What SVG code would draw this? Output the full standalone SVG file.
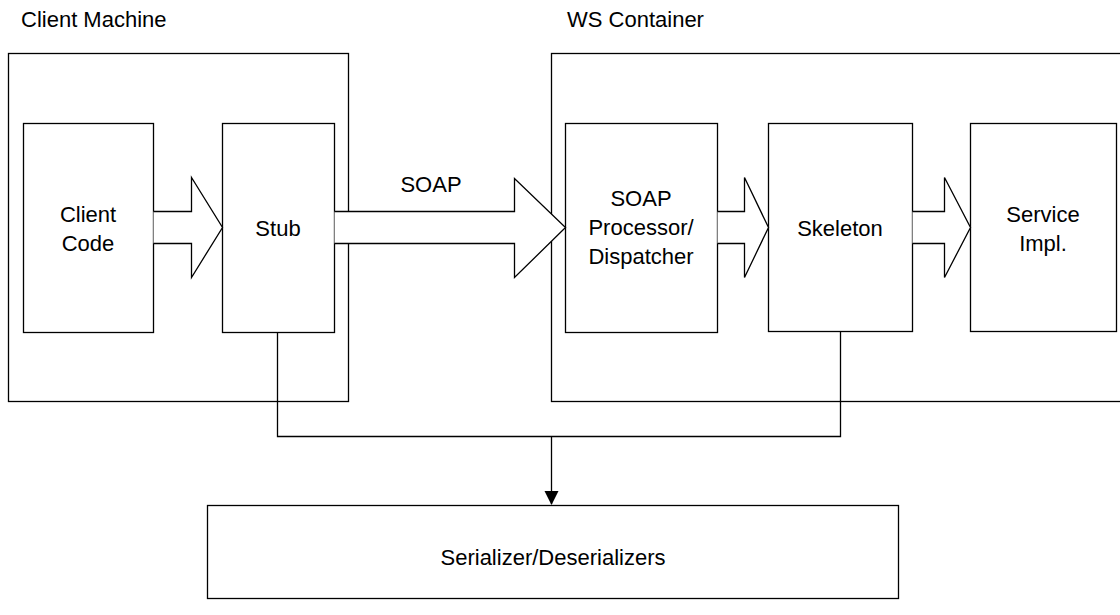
<svg xmlns="http://www.w3.org/2000/svg" width="1120" height="615" viewBox="0 0 1120 615">
<defs>
<style>
.box{fill:#fff;stroke:#000;stroke-width:1.3}
.frame{fill:none;stroke:#000;stroke-width:1.3}
.arr{fill:#fff;stroke:#000;stroke-width:1.3;stroke-linejoin:miter}
.line{fill:none;stroke:#000;stroke-width:1.3}
text{font-family:"Liberation Sans",Arial,sans-serif;font-size:22px;fill:#000}
.c{text-anchor:middle}
</style>
<marker id="ah" markerWidth="14" markerHeight="22" refX="13" refY="7" orient="auto" markerUnits="userSpaceOnUse" viewBox="0 0 14 14">
<path d="M0,0 L14,7 L0,14 Z" fill="#000"/>
</marker>
</defs>
<rect width="1120" height="615" fill="#fff"/>
<g id="client-machine">
<rect class="frame" x="8.5" y="53.5" width="340" height="348"/>
<text x="21" y="27">Client Machine</text>
</g>
<g id="ws-container">
<rect class="frame" x="551.5" y="53.5" width="600" height="348"/>
<text x="567" y="27">WS Container</text>
</g>
<g id="client-code">
<rect class="box" x="23.5" y="123.5" width="130" height="209"/>
<text class="c" x="88" y="222">Client</text>
<text class="c" x="88" y="251">Code</text>
</g>
<g id="stub">
<rect class="box" x="222.5" y="123.5" width="112" height="209"/>
<text class="c" x="278" y="236">Stub</text>
</g>
<g id="soap-processor">
<rect class="box" x="565.5" y="123.5" width="152" height="209"/>
<text class="c" x="641" y="206">SOAP</text>
<text class="c" x="641" y="235">Processor/</text>
<text class="c" x="641" y="264">Dispatcher</text>
</g>
<g id="skeleton">
<rect class="box" x="768.5" y="123.5" width="144" height="208"/>
<text class="c" x="840" y="236">Skeleton</text>
</g>
<g id="service-impl">
<rect class="box" x="970.5" y="123.5" width="146" height="208"/>
<text class="c" x="1043" y="222">Service</text>
<text class="c" x="1043" y="251">Impl.</text>
</g>
<g id="serializer">
<rect class="box" x="207.5" y="505.5" width="691" height="93"/>
<text class="c" x="553" y="565">Serializer/Deserializers</text>
</g>
<g id="connectors">
<path class="arr" d="M153.5,211.5 H191.5 V177.5 L222.5,227.5 L191.5,277.5 V243.5 H153.5"/>
<path class="arr" d="M334.5,211.5 H514.5 V178.5 L565.5,227.5 L514.5,277.5 V243.5 H334.5"/>
<path class="arr" d="M717.5,211.5 H744.5 V177.5 L768.5,227.5 L744.5,277.5 V243.5 H717.5"/>
<path class="arr" d="M912.5,211.5 H944.5 V177.5 L970.5,227.5 L944.5,277.5 V243.5 H912.5"/>
<text class="c" x="431" y="192">SOAP</text>
<path class="line" d="M277.5,332.5 V436.5 H840.5 V331.5"/>
<path class="line" d="M551.5,436.5 V504" marker-end="url(#ah)"/>
</g>
</svg>
